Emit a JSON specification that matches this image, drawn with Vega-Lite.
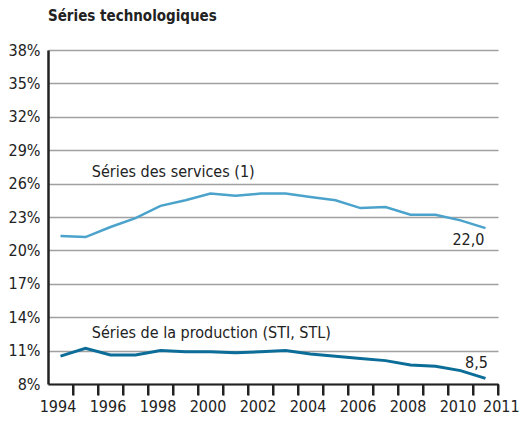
{
  "$schema": "https://vega.github.io/schema/vega-lite/v6.json",
  "width": 450,
  "height": 334,
  "autosize": "none",
  "padding": {"left": 48, "top": 50, "right": 24, "bottom": 38},
  "background": "white",
  "title": {
    "text": "Séries technologiques",
    "anchor": "start",
    "frame": "group",
    "font": "DejaVu Sans Condensed, Roboto Condensed, Liberation Sans, sans-serif",
    "fontSize": 15,
    "fontWeight": "bold",
    "color": "#222222",
    "offset": 18
  },
  "config": {
    "view": {"stroke": null},
    "font": "DejaVu Sans Condensed, Roboto Condensed, Liberation Sans, sans-serif",
    "axis": {"labelOverlap": false, "labelFont": "DejaVu Sans Condensed, Roboto Condensed, Liberation Sans, sans-serif"},
    "text": {"font": "DejaVu Sans Condensed, Roboto Condensed, Liberation Sans, sans-serif"}
  },
  "datasets": {
    "lines": [
      {"year": 1994, "value": 21.3, "series": "services"},
      {"year": 1995, "value": 21.2, "series": "services"},
      {"year": 1996, "value": 22.1, "series": "services"},
      {"year": 1997, "value": 22.9, "series": "services"},
      {"year": 1998, "value": 24.0, "series": "services"},
      {"year": 1999, "value": 24.5, "series": "services"},
      {"year": 2000, "value": 25.1, "series": "services"},
      {"year": 2001, "value": 24.9, "series": "services"},
      {"year": 2002, "value": 25.1, "series": "services"},
      {"year": 2003, "value": 25.1, "series": "services"},
      {"year": 2004, "value": 24.8, "series": "services"},
      {"year": 2005, "value": 24.5, "series": "services"},
      {"year": 2006, "value": 23.8, "series": "services"},
      {"year": 2007, "value": 23.9, "series": "services"},
      {"year": 2008, "value": 23.2, "series": "services"},
      {"year": 2009, "value": 23.2, "series": "services"},
      {"year": 2010, "value": 22.7, "series": "services"},
      {"year": 2011, "value": 22.0, "series": "services"},
      {"year": 1994, "value": 10.5, "series": "production"},
      {"year": 1995, "value": 11.2, "series": "production"},
      {"year": 1996, "value": 10.6, "series": "production"},
      {"year": 1997, "value": 10.6, "series": "production"},
      {"year": 1998, "value": 11.0, "series": "production"},
      {"year": 1999, "value": 10.9, "series": "production"},
      {"year": 2000, "value": 10.9, "series": "production"},
      {"year": 2001, "value": 10.8, "series": "production"},
      {"year": 2002, "value": 10.9, "series": "production"},
      {"year": 2003, "value": 11.0, "series": "production"},
      {"year": 2004, "value": 10.7, "series": "production"},
      {"year": 2005, "value": 10.5, "series": "production"},
      {"year": 2006, "value": 10.3, "series": "production"},
      {"year": 2007, "value": 10.1, "series": "production"},
      {"year": 2008, "value": 9.7, "series": "production"},
      {"year": 2009, "value": 9.6, "series": "production"},
      {"year": 2010, "value": 9.2, "series": "production"},
      {"year": 2011, "value": 8.5, "series": "production"}
    ],
    "bounds": [
      {"year": 1994.5}, {"year": 1995.5}, {"year": 1996.5}, {"year": 1997.5}, {"year": 1998.5}, {"year": 1999.5},
      {"year": 2000.5}, {"year": 2001.5}, {"year": 2002.5}, {"year": 2003.5}, {"year": 2004.5}, {"year": 2005.5},
      {"year": 2006.5}, {"year": 2007.5}, {"year": 2008.5}, {"year": 2009.5}, {"year": 2010.5}, {"year": 2011.5}
    ],
    "labels": [
      {"year": 1995.25, "value": 27.05, "text": "Séries des services (1)", "align": "left"},
      {"year": 1995.25, "value": 12.6, "text": "Séries de la production (STI, STL)", "align": "left"},
      {"year": 2010.96, "value": 20.94, "text": "22,0", "align": "right"},
      {"year": 2010.64, "value": 9.9, "text": "8,5", "align": "center"}
    ]
  },
  "layer": [
    {
      "data": {"name": "lines"},
      "mark": {"type": "line"},
      "encoding": {
        "x": {
          "field": "year",
          "type": "quantitative",
          "scale": {"domain": [1993.5, 2011.5], "nice": false, "zero": false},
          "axis": {
            "title": null,
            "values": [1994.5, 1995.5, 1996.5, 1997.5, 1998.5, 1999.5, 2000.5, 2001.5, 2002.5, 2003.5, 2004.5, 2005.5, 2006.5, 2007.5, 2008.5, 2009.5, 2010.5, 2011.5],
            "tickCount": 50,
            "labelExpr": "(floor(datum.value) % 2 == 0 || floor(datum.value) == 2011) ? toString(floor(datum.value)) : ''",
            "grid": false,
            "domainColor": "#222222",
            "domainWidth": 2,
            "ticks": true,
            "tickColor": "#222222",
            "tickWidth": 2,
            "tickSize": 11,
            "labelOffset": -15.5,
            "labelAlign": {"condition": {"test": "datum.value == 2011.5", "value": "left"}, "value": "center"},
            "labelFontSize": 16,
            "labelColor": "#222222",
            "labelPadding": 3,
            "labelOverlap": false,
            "labelFlush": false,
            "labelBound": false
          }
        },
        "y": {
          "field": "value",
          "type": "quantitative",
          "scale": {"domain": [8, 38], "nice": false, "zero": false, "clamp": false},
          "axis": {
            "title": null,
            "values": [8, 11, 14, 17, 20, 23, 26, 29, 32, 35, 38],
            "tickCount": 50,
            "labelExpr": "datum.value + '%'",
            "grid": true,
            "gridColor": "#a0a0a0",
            "gridWidth": 1.5,
            "domainColor": "#222222",
            "domainWidth": 2.5,
            "ticks": false,
            "labelFontSize": 16,
            "labelColor": "#222222",
            "labelPadding": 8,
            "labelOverlap": false,
            "labelFlush": false
          }
        },
        "color": {
          "field": "series",
          "type": "nominal",
          "scale": {"domain": ["services", "production"], "range": ["#4ba3cc", "#0b6d98"]},
          "legend": null
        },
        "strokeWidth": {
          "field": "series",
          "type": "nominal",
          "scale": {"domain": ["services", "production"], "range": [2.5, 3]},
          "legend": null
        }
      }
    },
    {
      "data": {"name": "bounds"},
      "mark": {"type": "rule", "color": "#222222", "strokeWidth": 2, "clip": false},
      "encoding": {
        "x": {"field": "year", "type": "quantitative"},
        "y": {"datum": 8},
        "y2": {"datum": 7}
      }
    },
    {
      "data": {"name": "labels"},
      "transform": [{"filter": "datum.align == 'left'"}],
      "mark": {"type": "text", "align": "left", "baseline": "middle", "fontSize": 16, "color": "#222222"},
      "encoding": {
        "x": {"field": "year", "type": "quantitative"},
        "y": {"field": "value", "type": "quantitative"},
        "text": {"field": "text"}
      }
    },
    {
      "data": {"name": "labels"},
      "transform": [{"filter": "datum.align == 'right'"}],
      "mark": {"type": "text", "align": "right", "baseline": "middle", "fontSize": 16, "color": "#222222"},
      "encoding": {
        "x": {"field": "year", "type": "quantitative"},
        "y": {"field": "value", "type": "quantitative"},
        "text": {"field": "text"}
      }
    },
    {
      "data": {"name": "labels"},
      "transform": [{"filter": "datum.align == 'center'"}],
      "mark": {"type": "text", "align": "center", "baseline": "middle", "fontSize": 16, "color": "#222222"},
      "encoding": {
        "x": {"field": "year", "type": "quantitative"},
        "y": {"field": "value", "type": "quantitative"},
        "text": {"field": "text"}
      }
    }
  ]
}
